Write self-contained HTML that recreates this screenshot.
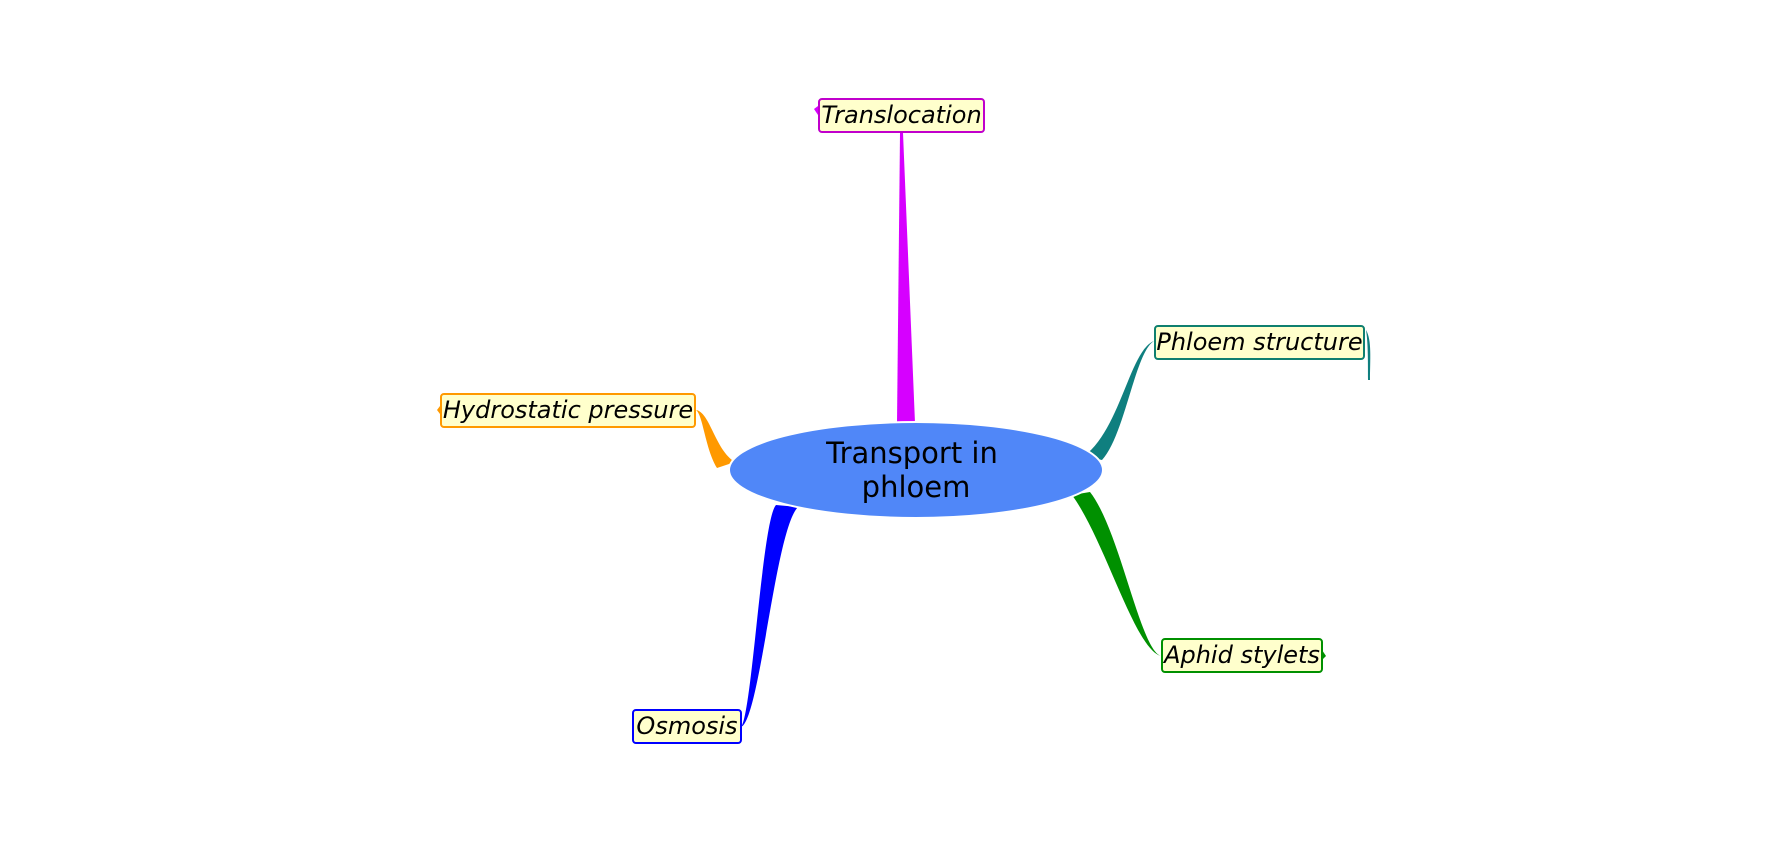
<!DOCTYPE html>
<html><head><meta charset="utf-8"><style>
html,body{margin:0;padding:0;background:#fff;}
body{width:1779px;height:850px;position:relative;overflow:hidden;font-family:"DejaVu Sans","Liberation Sans",sans-serif;}
.n{position:absolute;box-sizing:border-box;background:#ffffcc;border:2px solid;border-radius:4px;font-style:italic;font-size:24px;line-height:31px;text-align:center;color:#000;white-space:nowrap;letter-spacing:0px;}
</style></head><body>
<svg width="1779" height="850" style="position:absolute;left:0;top:0">
<path d="M897,423 L915,423 L903,133 L900,133 Z" fill="#d600ff"/>
<path d="M818,115 L814,109 L818,106 Z" fill="#d600ff"/>
<path d="M1084,456 C1120,430 1130,350 1154,341 C1135,352 1125,435 1102,460 Z" fill="#0f7f7f"/>
<path d="M1366,330 C1372,340 1370,360 1370,380 L1368,380 C1368,360 1368,342 1366,330 Z" fill="#0f7f7f"/>
<path d="M1072,495 L1090,492 C1120,530 1140,650 1161,656 C1135,650 1105,540 1072,495 Z" fill="#009000"/>
<path d="M1322,650 L1326,656 L1322,660 Z" fill="#009000"/>
<path d="M776,505 L798,507 C775,530 760,720 741,727 C752,715 762,520 776,505 Z" fill="#0000ff"/>
<path d="M717,468 L735,462 C715,450 710,412 696,410 C703,415 705,448 717,468 Z" fill="#ff9900"/>
<path d="M440,406 L437,410 L440,414 Z" fill="#ff9900"/>
<ellipse cx="916" cy="470" rx="187" ry="48" fill="#5087f8" stroke="#fff" stroke-width="2"/>
<text x="912" y="463" font-size="29" text-anchor="middle" font-family="DejaVu Sans, sans-serif">Transport in</text>
<text x="916" y="497" font-size="29" text-anchor="middle" font-family="DejaVu Sans, sans-serif">phloem</text>
</svg>
<div class="n" style="left:818px;top:98px;width:167px;height:35px;border-color:#c000cc">Translocation</div>
<div class="n" style="left:1154px;top:325px;width:211px;height:35px;border-color:#0f7f6f">Phloem structure</div>
<div class="n" style="left:440px;top:393px;width:256px;height:35px;border-color:#ff9900">Hydrostatic pressure</div>
<div class="n" style="left:1161px;top:638px;width:162px;height:35px;border-color:#009000">Aphid stylets</div>
<div class="n" style="left:632px;top:709px;width:110px;height:35px;border-color:#0000ff">Osmosis</div>
</body></html>
